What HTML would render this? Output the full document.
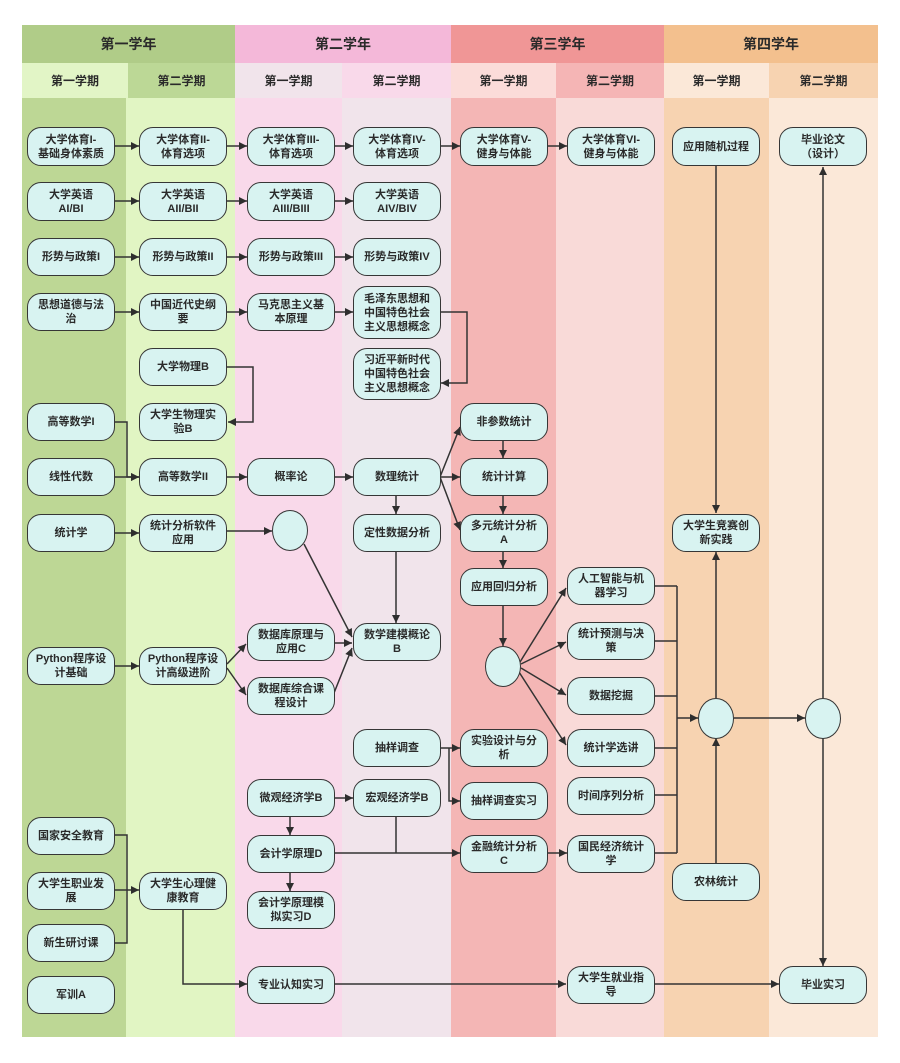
<!DOCTYPE html>
<html><head><meta charset="utf-8">
<style>
*{margin:0;padding:0;box-sizing:border-box}
body{width:900px;height:1063px;background:#fff;position:relative;overflow:hidden;font-family:"Liberation Sans","Noto Sans CJK SC",sans-serif;}
.bg{position:absolute}
.hd{position:absolute;display:flex;align-items:center;justify-content:center;font-weight:bold;color:#2a2a2a}
.yr{font-size:14px}
.sm{font-size:12px}
.n{position:absolute;width:88px;height:38px;background:#d8f3f1;border:1.7px solid #363636;border-radius:14px;display:flex;align-items:center;justify-content:center;text-align:center;font-size:11px;font-weight:bold;line-height:14px;color:#2a2a2a;}
.c{position:absolute;width:36px;height:41px;background:#d8f3f1;border:1.7px solid #363636;border-radius:50%}
svg{position:absolute;left:0;top:0}
</style></head><body>
<!-- body columns -->
<div class="bg" style="left:22px;top:98px;width:104px;height:939px;background:#bdd795"></div>
<div class="bg" style="left:126px;top:98px;width:109px;height:939px;background:#e1f5c3"></div>
<div class="bg" style="left:235px;top:98px;width:107px;height:939px;background:#f9d9ea"></div>
<div class="bg" style="left:342px;top:98px;width:109px;height:939px;background:#f1e4eb"></div>
<div class="bg" style="left:451px;top:98px;width:105px;height:939px;background:#f4b6b5"></div>
<div class="bg" style="left:556px;top:98px;width:108px;height:939px;background:#f9dad8"></div>
<div class="bg" style="left:664px;top:98px;width:105px;height:939px;background:#f7d3b1"></div>
<div class="bg" style="left:769px;top:98px;width:109px;height:939px;background:#fbe8d8"></div>
<!-- year headers -->
<div class="hd yr" style="left:22px;top:25px;width:213px;height:38px;background:#b0cc88">第一学年</div>
<div class="hd yr" style="left:235px;top:25px;width:216px;height:38px;background:#f4b8d9">第二学年</div>
<div class="hd yr" style="left:451px;top:25px;width:213px;height:38px;background:#f09696">第三学年</div>
<div class="hd yr" style="left:664px;top:25px;width:214px;height:38px;background:#f3c08e">第四学年</div>
<!-- semester headers -->
<div class="hd sm" style="left:22px;top:63px;width:106px;height:35px;background:#e2f5c6">第一学期</div>
<div class="hd sm" style="left:128px;top:63px;width:107px;height:35px;background:#bcd896">第二学期</div>
<div class="hd sm" style="left:235px;top:63px;width:107px;height:35px;background:#f1e4eb">第一学期</div>
<div class="hd sm" style="left:342px;top:63px;width:109px;height:35px;background:#f9d9ea">第二学期</div>
<div class="hd sm" style="left:451px;top:63px;width:105px;height:35px;background:#fbdcd9">第一学期</div>
<div class="hd sm" style="left:556px;top:63px;width:108px;height:35px;background:#f5b5b5">第二学期</div>
<div class="hd sm" style="left:664px;top:63px;width:105px;height:35px;background:#fbe8d8">第一学期</div>
<div class="hd sm" style="left:769px;top:63px;width:109px;height:35px;background:#f7d3b1">第二学期</div>

<svg width="900" height="1063" viewBox="0 0 900 1063">
<defs>
<marker id="a" viewBox="0 0 10 10" refX="10" refY="5" markerWidth="11" markerHeight="8" markerUnits="userSpaceOnUse" orient="auto">
<path d="M0,0 L10,5 L0,10 z" fill="#2e2e2e"/>
</marker>
</defs>
<g fill="none" stroke="#333" stroke-width="1.5">
<!-- row1 -->
<path d="M115,146 H139" marker-end="url(#a)"/>
<path d="M227,146 H247" marker-end="url(#a)"/>
<path d="M334,146 H353" marker-end="url(#a)"/>
<path d="M440,146 H460" marker-end="url(#a)"/>
<path d="M547,146 H567" marker-end="url(#a)"/>
<!-- row2 -->
<path d="M115,201 H139" marker-end="url(#a)"/>
<path d="M227,201 H247" marker-end="url(#a)"/>
<path d="M334,201 H353" marker-end="url(#a)"/>
<!-- row3 -->
<path d="M115,257 H139" marker-end="url(#a)"/>
<path d="M227,257 H247" marker-end="url(#a)"/>
<path d="M334,257 H353" marker-end="url(#a)"/>
<!-- row4 -->
<path d="M115,312 H139" marker-end="url(#a)"/>
<path d="M227,312 H247" marker-end="url(#a)"/>
<path d="M334,312 H353" marker-end="url(#a)"/>
<path d="M440,312 H467 V383 H441" marker-end="url(#a)"/>
<path d="M227,367 H253 V422 H228" marker-end="url(#a)"/>
<path d="M115,422 H127 V477 H139" marker-end="url(#a)"/>
<path d="M115,477 H139" marker-end="url(#a)"/>
<path d="M227,477 H247" marker-end="url(#a)"/>
<path d="M334,477 H353" marker-end="url(#a)"/>
<path d="M440,477 H460" marker-end="url(#a)"/>
<path d="M440,477 L460,427" marker-end="url(#a)"/>
<path d="M440,477 L460,530" marker-end="url(#a)"/>
<path d="M396,496 V514" marker-end="url(#a)"/>
<path d="M503,441 V458" marker-end="url(#a)"/>
<path d="M503,496 V514" marker-end="url(#a)"/>
<path d="M503,552 V568" marker-end="url(#a)"/>
<path d="M503,606 V646" marker-end="url(#a)"/>
<path d="M115,533 H139" marker-end="url(#a)"/>
<path d="M227,531 H272" marker-end="url(#a)"/>
<path d="M304,544 L352,637" marker-end="url(#a)"/>
<path d="M396,552 V623" marker-end="url(#a)"/>
<path d="M334,643 H352" marker-end="url(#a)"/>
<path d="M334,693 L352,648" marker-end="url(#a)"/>
<path d="M115,666 H139" marker-end="url(#a)"/>
<path d="M227,664 L246,644" marker-end="url(#a)"/>
<path d="M227,668 L246,695" marker-end="url(#a)"/>
<!-- circle c5 fan -->
<path d="M520,662 L566,588" marker-end="url(#a)"/>
<path d="M521,664 L566,642" marker-end="url(#a)"/>
<path d="M521,668 L566,695" marker-end="url(#a)"/>
<path d="M519,672 L566,745" marker-end="url(#a)"/>
<!-- bracket c6 -->
<path d="M655,586 H677 M655,641 H677 M655,696 H677 M655,748 H677 M655,795 H677 M655,853 H677 M677,586 V853"/>
<path d="M677,718 H698" marker-end="url(#a)"/>
<!-- c7 -->
<path d="M716,166 V513" marker-end="url(#a)"/>
<path d="M716,698 V552" marker-end="url(#a)"/>
<path d="M716,863 V738" marker-end="url(#a)"/>
<path d="M734,718 H805" marker-end="url(#a)"/>
<!-- c8 -->
<path d="M823,698 V167" marker-end="url(#a)"/>
<path d="M823,738 V966" marker-end="url(#a)"/>
<!-- 抽样 -->
<path d="M440,748 H460" marker-end="url(#a)"/>
<path d="M449,748 V801 H460" marker-end="url(#a)"/>
<!-- econ -->
<path d="M334,798 H353" marker-end="url(#a)"/>
<path d="M290,817 V835" marker-end="url(#a)"/>
<path d="M290,872 V891" marker-end="url(#a)"/>
<path d="M334,853 H460" marker-end="url(#a)"/>
<path d="M396,817 V853"/>
<path d="M547,853 H567" marker-end="url(#a)"/>
<!-- col1 bottom -->
<path d="M115,835 H127 V943 H115"/>
<path d="M115,890 H139" marker-end="url(#a)"/>
<path d="M183,909 V984 H247" marker-end="url(#a)"/>
<path d="M334,984 H566" marker-end="url(#a)"/>
<path d="M655,984 H779" marker-end="url(#a)"/>
</g>
</svg>

<!-- nodes row1 -->
<div class="n" style="left:27px;top:127px;height:39px">大学体育I-<br>基础身体素质</div>
<div class="n" style="left:139px;top:127px;height:39px">大学体育II-<br>体育选项</div>
<div class="n" style="left:247px;top:127px;height:39px">大学体育III-<br>体育选项</div>
<div class="n" style="left:353px;top:127px;height:39px">大学体育IV-<br>体育选项</div>
<div class="n" style="left:460px;top:127px;height:39px">大学体育V-<br>健身与体能</div>
<div class="n" style="left:567px;top:127px;height:39px">大学体育VI-<br>健身与体能</div>
<div class="n" style="left:672px;top:127px;height:39px">应用随机过程</div>
<div class="n" style="left:779px;top:127px;height:39px">毕业论文<br>（设计）</div>
<!-- row2 -->
<div class="n" style="left:27px;top:182px;height:39px">大学英语<br>AI/BI</div>
<div class="n" style="left:139px;top:182px;height:39px">大学英语<br>AII/BII</div>
<div class="n" style="left:247px;top:182px;height:39px">大学英语<br>AIII/BIII</div>
<div class="n" style="left:353px;top:182px;height:39px">大学英语<br>AIV/BIV</div>
<!-- row3 -->
<div class="n" style="left:27px;top:238px">形势与政策I</div>
<div class="n" style="left:139px;top:238px">形势与政策II</div>
<div class="n" style="left:247px;top:238px">形势与政策III</div>
<div class="n" style="left:353px;top:238px">形势与政策IV</div>
<!-- row4 -->
<div class="n" style="left:27px;top:293px">思想道德与法<br>治</div>
<div class="n" style="left:139px;top:293px">中国近代史纲<br>要</div>
<div class="n" style="left:247px;top:293px">马克思主义基<br>本原理</div>
<div class="n" style="left:353px;top:286px;height:53px">毛泽东思想和<br>中国特色社会<br>主义思想概念</div>
<div class="n" style="left:139px;top:348px">大学物理B</div>
<div class="n" style="left:353px;top:348px;height:52px">习近平新时代<br>中国特色社会<br>主义思想概念</div>
<div class="n" style="left:27px;top:403px">高等数学I</div>
<div class="n" style="left:139px;top:403px">大学生物理实<br>验B</div>
<div class="n" style="left:460px;top:403px">非参数统计</div>
<div class="n" style="left:27px;top:458px">线性代数</div>
<div class="n" style="left:139px;top:458px">高等数学II</div>
<div class="n" style="left:247px;top:458px">概率论</div>
<div class="n" style="left:353px;top:458px">数理统计</div>
<div class="n" style="left:460px;top:458px">统计计算</div>
<div class="n" style="left:27px;top:514px">统计学</div>
<div class="n" style="left:139px;top:514px">统计分析软件<br>应用</div>
<div class="c" style="left:272px;top:510px"></div>
<div class="n" style="left:353px;top:514px">定性数据分析</div>
<div class="n" style="left:460px;top:514px">多元统计分析<br>A</div>
<div class="n" style="left:672px;top:514px">大学生竞赛创<br>新实践</div>
<div class="n" style="left:460px;top:568px">应用回归分析</div>
<div class="n" style="left:567px;top:567px">人工智能与机<br>器学习</div>
<div class="n" style="left:247px;top:623px">数据库原理与<br>应用C</div>
<div class="n" style="left:353px;top:623px">数学建模概论<br>B</div>
<div class="n" style="left:567px;top:622px">统计预测与决<br>策</div>
<div class="n" style="left:27px;top:647px">Python程序设<br>计基础</div>
<div class="n" style="left:139px;top:647px">Python程序设<br>计高级进阶</div>
<div class="c" style="left:485px;top:646px"></div>
<div class="n" style="left:247px;top:677px">数据库综合课<br>程设计</div>
<div class="n" style="left:567px;top:677px">数据挖掘</div>
<div class="c" style="left:698px;top:698px"></div>
<div class="c" style="left:805px;top:698px"></div>
<div class="n" style="left:353px;top:729px">抽样调查</div>
<div class="n" style="left:460px;top:729px">实验设计与分<br>析</div>
<div class="n" style="left:567px;top:729px">统计学选讲</div>
<div class="n" style="left:567px;top:777px">时间序列分析</div>
<div class="n" style="left:247px;top:779px">微观经济学B</div>
<div class="n" style="left:353px;top:779px">宏观经济学B</div>
<div class="n" style="left:460px;top:782px">抽样调查实习</div>
<div class="n" style="left:27px;top:817px">国家安全教育</div>
<div class="n" style="left:247px;top:835px">会计学原理D</div>
<div class="n" style="left:460px;top:835px">金融统计分析<br>C</div>
<div class="n" style="left:567px;top:835px">国民经济统计<br>学</div>
<div class="n" style="left:672px;top:863px">农林统计</div>
<div class="n" style="left:27px;top:872px">大学生职业发<br>展</div>
<div class="n" style="left:139px;top:872px">大学生心理健<br>康教育</div>
<div class="n" style="left:247px;top:891px">会计学原理模<br>拟实习D</div>
<div class="n" style="left:27px;top:924px">新生研讨课</div>
<div class="n" style="left:247px;top:966px">专业认知实习</div>
<div class="n" style="left:567px;top:966px">大学生就业指<br>导</div>
<div class="n" style="left:779px;top:966px">毕业实习</div>
<div class="n" style="left:27px;top:976px">军训A</div>
</body></html>
